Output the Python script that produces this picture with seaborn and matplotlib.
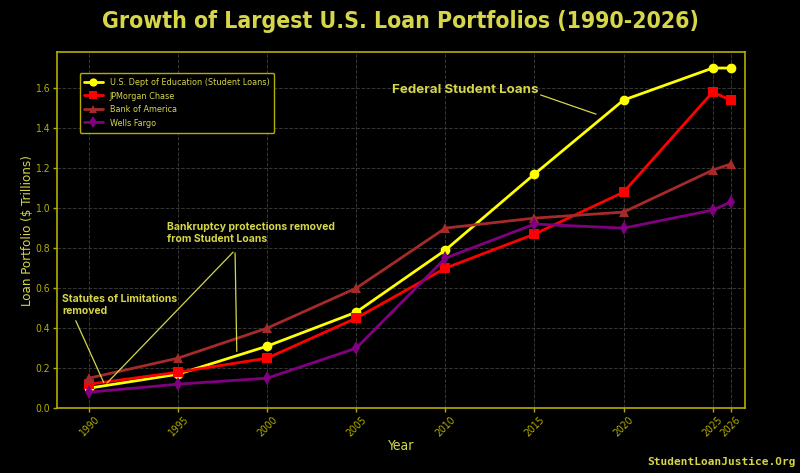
import matplotlib
matplotlib.use("Agg")
import matplotlib.pyplot as plt
import pandas as pd
import seaborn as sns

years = [1990, 1995, 2000, 2005, 2010, 2015, 2020, 2025, 2026]
education = [0.10, 0.17, 0.31, 0.48, 0.79, 1.17, 1.54, 1.70, 1.70]
jpmorgan = [0.12, 0.18, 0.25, 0.45, 0.70, 0.87, 1.08, 1.58, 1.54]
bofa = [0.15, 0.25, 0.40, 0.60, 0.90, 0.95, 0.98, 1.19, 1.22]
wells = [0.08, 0.12, 0.15, 0.30, 0.75, 0.92, 0.90, 0.99, 1.03]

series_names = ["U.S. Dept of Education (Student Loans)", "JPMorgan Chase",
                "Bank of America", "Wells Fargo"]
series_vals = [education, jpmorgan, bofa, wells]
colors = ["yellow", "red", "brown", "purple"]
markers = ["o", "s", "^", "d"]

TXT = "#d6d64a"
SPINE = "#b3ad00"

rows = []
for name, vals in zip(series_names, series_vals):
    for y, v in zip(years, vals):
        rows.append({"Year": y, "Value": v, "Lender": name})
df = pd.DataFrame(rows)

sns.set_style("dark")
plt.rcParams["font.family"] = ["DejaVu Sans"]
plt.rcParams["font.stretch"] = "condensed"

fig = plt.figure(figsize=(8, 4.73), dpi=100, facecolor="black")
ax = fig.add_axes([0.071, 0.137, 0.86, 0.753])
ax.set_facecolor("black")

sns.lineplot(data=df, x="Year", y="Value", hue="Lender", style="Lender",
             palette=dict(zip(series_names, colors)),
             markers=dict(zip(series_names, markers)),
             dashes=False, linewidth=2, markersize=7, markeredgewidth=0,
             ax=ax)

ax.set_xlim(1988.2, 2026.8)
ax.set_ylim(0, 1.78)
ax.set_xticks(years)
ax.set_xticklabels([str(y) for y in years], rotation=45, color=TXT, fontsize=7.5)
ax.set_yticks([0.0, 0.2, 0.4, 0.6, 0.8, 1.0, 1.2, 1.4, 1.6])
ax.set_yticklabels([f"{v:.1f}" for v in ax.get_yticks()], color=TXT, fontsize=7.5)
ax.tick_params(colors=SPINE, length=3, width=1, bottom=True, left=True, pad=2)
ax.grid(True, color="#444444", linestyle="--", linewidth=0.7, alpha=0.8)
for s in ax.spines.values():
    s.set_color(SPINE)
    s.set_linewidth(1.2)

ax.set_xlabel("Year", color=TXT, fontsize=10, labelpad=0)
ax.set_ylabel("Loan Portfolio ($ Trillions)", color=TXT, fontsize=9.5, labelpad=1)

fig.suptitle("Growth of Largest U.S. Loan Portfolios (1990-2026)",
             color=TXT, fontsize=16.5, fontweight="bold", y=0.978)

leg = ax.legend(loc="upper left", bbox_to_anchor=(0.033, 0.941), fontsize=6.5,
                facecolor="black", edgecolor=SPINE, framealpha=1,
                handlelength=2.0, borderpad=0.55, labelspacing=0.5,
                borderaxespad=0, markerscale=0.85)
for t in leg.get_texts():
    t.set_color(TXT)
leg.get_frame().set_linewidth(1)

line = dict(arrowstyle="-", color=TXT, linewidth=0.9)
ann = dict(color=TXT, fontweight="bold", family=["Inter", "DejaVu Sans"],
           fontstretch="normal")

ax.text(2015.2, 1.59, "Federal Student Loans", ha="right", va="center",
        fontsize=9.6, **ann)
ax.annotate("", xy=(2018.6, 1.465), xytext=(2015.2, 1.57), arrowprops=line)

ax.text(1994.4, 0.875, "Bankruptcy protections removed\nfrom Student Loans",
        ha="left", va="center", linespacing=1.2, fontsize=7.5, **ann)
ax.annotate("", xy=(1990.9, 0.115), xytext=(1998.2, 0.79), arrowprops=line)
ax.annotate("", xy=(1998.3, 0.27), xytext=(1998.2, 0.79), arrowprops=line)

ax.text(1988.5, 0.515, "Statutes of Limitations\nremoved",
        ha="left", va="center", linespacing=1.2, fontsize=7.5, **ann)
ax.annotate("", xy=(1990.9, 0.115), xytext=(1989.2, 0.45), arrowprops=line)

fig.text(0.995, 0.012, "StudentLoanJustice.Org", ha="right", va="bottom",
         color=TXT, fontsize=8, fontweight="bold", family=["DejaVu Sans Mono"],
         fontstretch="normal")

fig.savefig("out.png", dpi=100, facecolor="black")
